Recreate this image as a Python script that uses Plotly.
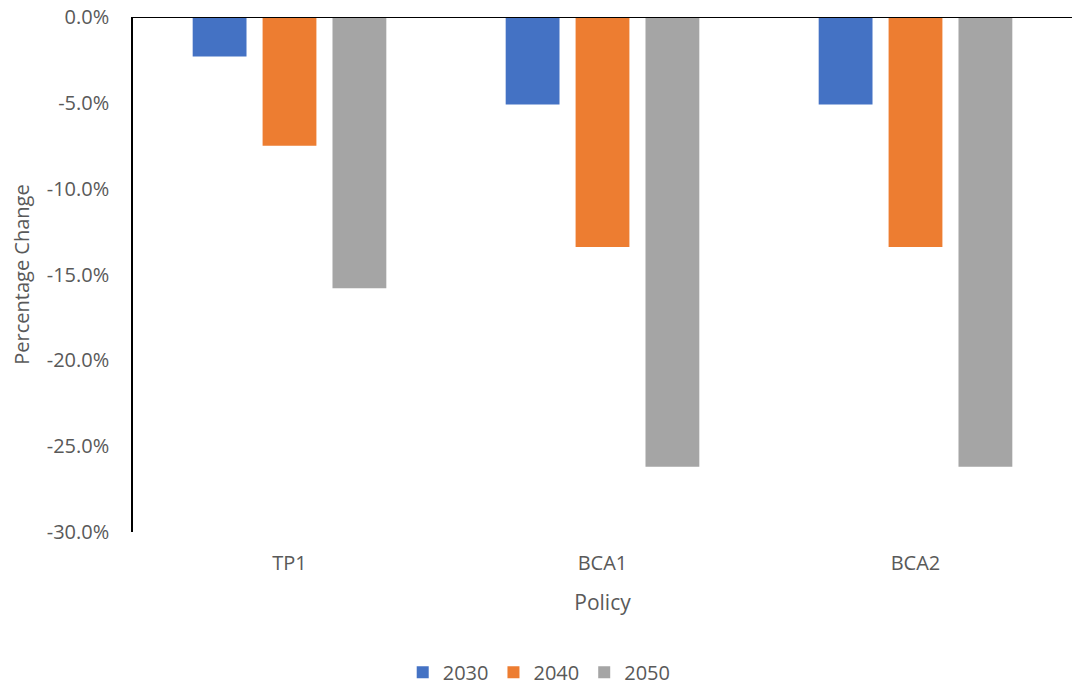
import plotly.graph_objects as go

policies = ["TP1", "BCA1", "BCA2"]
years = ["2030", "2040", "2050"]
change_2030 = [-2.3, -5.1, -5.1]
change_2040 = [-7.5, -13.4, -13.4]
change_2050 = [-15.8, -26.2, -26.2]
series_values = [change_2030, change_2040, change_2050]
colors = ["#4472C4", "#ED7D31", "#A5A5A5"]
y_ticks = [0, -5, -10, -15, -20, -25, -30]
y_tick_labels = [f"{v:.1f}%" for v in y_ticks]

FONT = "Open Sans"
TEXT = "#595959"

fig = go.Figure()
for year, vals, col in zip(years, series_values, colors):
    fig.add_trace(go.Bar(
        x=policies, y=vals, name=year,
        marker=dict(color=col, line=dict(width=0)),
    ))

fig.update_layout(
    width=1072, height=686,
    margin=dict(l=133, r=0, t=17, b=154),
    paper_bgcolor="white", plot_bgcolor="white",
    barmode="group", bargap=0.33, bargroupgap=0.23,
    font=dict(family=FONT, size=20, color=TEXT),
    showlegend=True,
    legend=dict(
        orientation="h",
        x=0.503, xref="container", xanchor="center",
        y=0.02, yref="container", yanchor="middle",
        font=dict(size=20, color=TEXT), itemwidth=30,
        traceorder="normal",
    ),
)

fig.update_xaxes(
    showgrid=False, showline=False, ticks="",
    ticklabelstandoff=17,
    title=dict(text="Policy", font=dict(size=21, color=TEXT), standoff=20),
    tickfont=dict(size=20, color=TEXT),
)
fig.update_yaxes(
    range=[-30, 0], tickvals=y_ticks, ticktext=y_tick_labels,
    showgrid=False, zeroline=False,
    showline=True, linecolor="black", linewidth=1.5,
    ticks="", ticklabelstandoff=18,
    title=dict(text="Percentage Change", font=dict(size=20, color=TEXT), standoff=12),
    tickfont=dict(size=20, color=TEXT),
)
# category axis crosses at zero, along the top of the plot
fig.add_shape(type="line", xref="paper", yref="y", x0=0, x1=1, y0=0, y1=0,
              line=dict(color="black", width=2))

fig.write_html("out.html")
